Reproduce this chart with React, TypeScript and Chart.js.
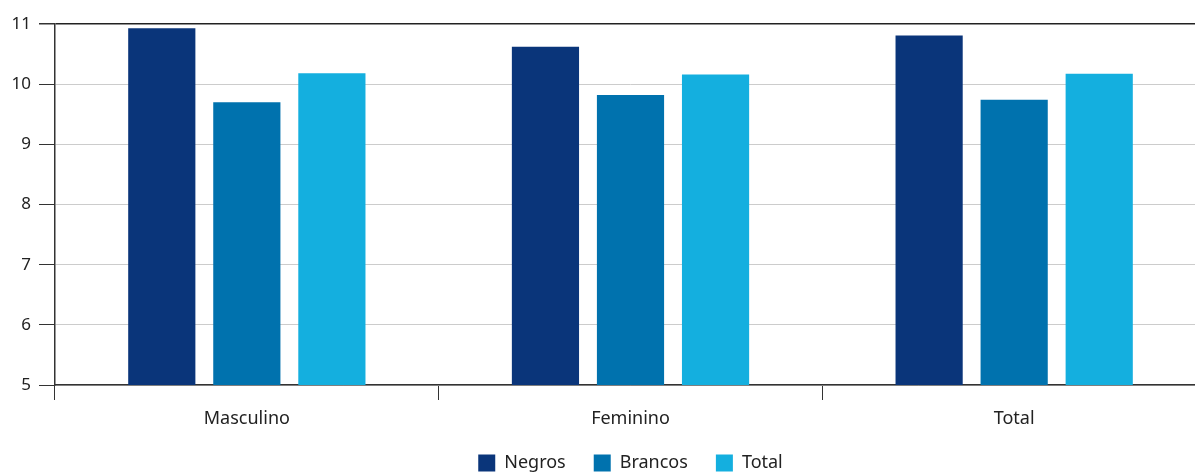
import React, { useEffect, useRef } from "react";
import { Chart, registerables } from "chart.js";

Chart.register(...registerables);

const categories = ["Masculino", "Feminino", "Total"];
const seriesNames = ["Negros", "Brancos", "Total"];
const negros = [10.93, 10.62, 10.81];
const brancos = [9.7, 9.82, 9.74];
const total = [10.18, 10.16, 10.175];
const yTicks = [5, 6, 7, 8, 9, 10, 11];
const colors = ["#0a357a", "#0072ae", "#14afdf"];

export default function App() {
  const ref = useRef<HTMLCanvasElement>(null);
  useEffect(() => {
    if (!ref.current) return;
    const family = "'Noto Sans', 'DejaVu Sans', sans-serif";
    const chart = new Chart(ref.current, {
      type: "bar",
      data: {
        labels: categories,
        datasets: [negros, brancos, total].map((d, i) => ({
          label: seriesNames[i],
          data: d,
          backgroundColor: colors[i],
          borderWidth: 0,
          categoryPercentage: 0.665,
          barPercentage: 0.79,
        })),
      },
      options: {
        animation: false,
        responsive: false,
        maintainAspectRatio: false,
        layout: { padding: { top: 24, right: 0, left: 0, bottom: -9 } },
        plugins: {
          tooltip: { enabled: false },
          legend: {
            position: "bottom",
            fullSize: false,
            labels: {
              font: { family, size: 18 },
              color: "#222",
              boxWidth: 17,
              boxHeight: 17,
              padding: 28,
            },
          },
        },
        scales: {
          x: {
            grid: {
              drawOnChartArea: false,
              drawTicks: true,
              tickLength: 15,
              tickColor: "#333",
              offset: true,
            },
            border: { color: "#333", width: 1.5 },
            ticks: { font: { family, size: 18 }, color: "#222", padding: 8 },
            afterFit: (s: any) => {
              s.height = 41;
            },
          },
          y: {
            min: 5,
            max: 11,
            afterBuildTicks: (s: any) => {
              s.ticks = yTicks.map((v) => ({ value: v }));
            },
            grid: {
              color: (c: any) => (c.tick && c.tick.value === 11 ? "#222" : "#cccccc"),
              lineWidth: (c: any) => (c.tick && c.tick.value === 11 ? 1.5 : 1),
              tickColor: "#333",
              tickLength: 16,
            },
            border: { color: "#333", width: 1.5 },
            ticks: { font: { family, size: 17 }, color: "#222", padding: 8 },
            afterFit: (s: any) => {
              s.width = 55;
            },
          },
        },
      },
    });
    return () => chart.destroy();
  }, []);
  return (
    <div
      style={{
        position: "absolute",
        left: 0,
        top: 0,
        width: 1195,
        height: 473,
        overflow: "hidden",
      }}
    >
      <canvas ref={ref} width={1206} height={473} />
    </div>
  );
}
